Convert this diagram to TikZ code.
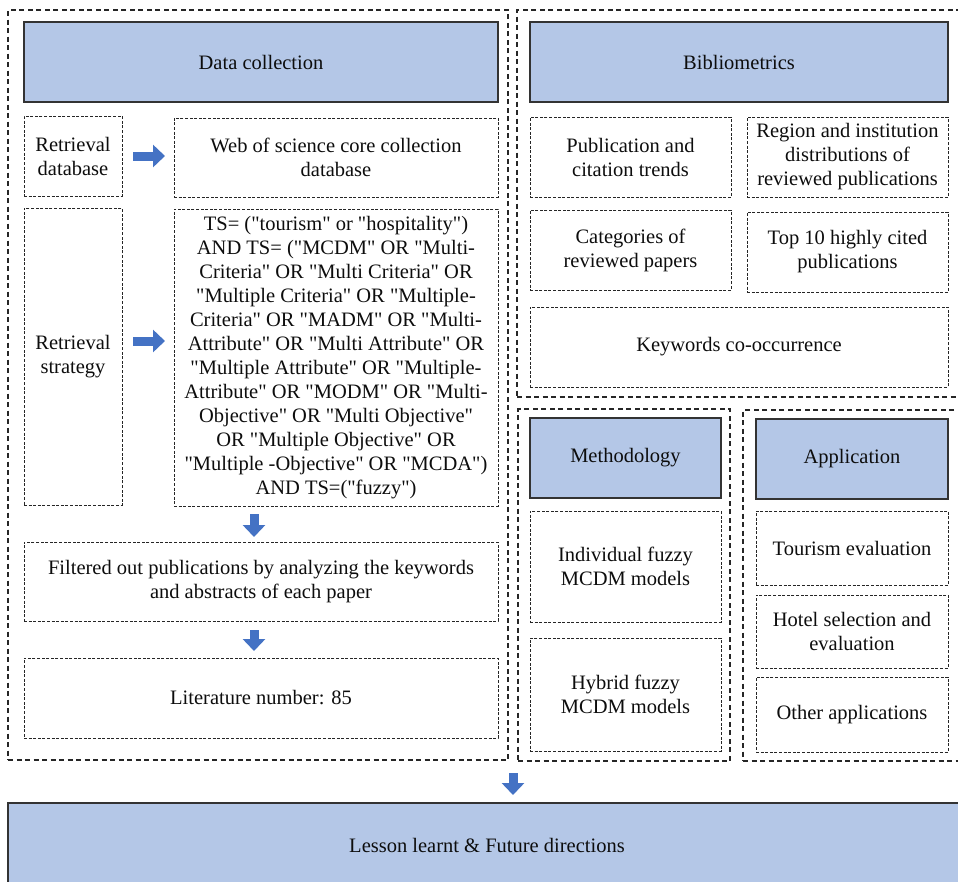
\documentclass[tikz,border=0pt]{standalone}
\usepackage{fontspec}
\setmainfont{Liberation Serif}[Ligatures=TeXOff]
\usetikzlibrary{arrows.meta}
\definecolor{hdrfill}{HTML}{B4C7E7}
\definecolor{arrowblue}{HTML}{4472C4}
\definecolor{txt}{HTML}{0D0D0D}
\begin{document}
\begin{tikzpicture}[x=1pt,y=-1pt,
  every node/.style={inner sep=0pt, outer sep=0pt, anchor=north west, align=center, text=txt,
    font=\fontsize{20.5}{24}\selectfont},
  outerbox/.style={draw=black!85, line width=1.1pt, dash pattern=on 5pt off 3.5pt},
  innerbox/.style={draw=black!85, line width=0.9pt, dash pattern=on 3pt off 1.6pt},
  hdrbox/.style={draw=black!80, fill=hdrfill, line width=1.3pt},
  blockarrow/.style={draw=arrowblue, line width=9pt, -{Triangle[width=22pt,length=12pt]}}]
\clip (0,0) rectangle (958,881);
\fill[white] (0,0) rectangle (958,881);
% outer dashed groups
\node[outerbox, minimum width=500pt, minimum height=750pt] (outerL) at (8,10) {};
\node[outerbox, minimum width=445pt, minimum height=387pt] (outerB) at (517,10) {};
\node[outerbox, minimum width=212pt, minimum height=352pt] (outerM) at (518,409) {};
\node[outerbox, minimum width=219pt, minimum height=351pt] (outerA) at (743,410) {};
% data collection
\node[hdrbox, minimum width=474pt, minimum height=80pt] (hdrD) at (24,22) {Data collection};
\node[innerbox, minimum width=98pt, minimum height=80pt] (retdb) at (24,116) {Retrieval\\database};
\node[innerbox, minimum width=324pt, minimum height=79pt] (web) at (174,118) {Web of science core collection\\database};
\node[innerbox, minimum width=98pt, minimum height=297pt] (retstr) at (24,208) {Retrieval\\strategy};
\node[innerbox, minimum width=324pt, minimum height=297pt] (ts) at (174,209) {TS= ("tourism" or "hospitality")\\
AND TS= ("MCDM" OR "Multi-\\
Criteria" OR "Multi Criteria" OR\\
"Multiple Criteria" OR "Multiple-\\
Criteria" OR "MADM" OR "Multi-\\
Attribute" OR "Multi Attribute" OR\\
"Multiple Attribute" OR "Multiple-\\
Attribute" OR "MODM" OR "Multi-\\
Objective" OR "Multi Objective"\\
OR "Multiple Objective" OR\\
"Multiple -Objective" OR "MCDA")\\
AND TS=("fuzzy")};
\node[innerbox, minimum width=474pt, minimum height=79pt] (filt) at (24,542) {Filtered out publications by analyzing the keywords\\and abstracts of each paper};
\node[innerbox, minimum width=474pt, minimum height=80pt] (lit) at (24,658) {Literature number: 85};
% bibliometrics
\node[hdrbox, minimum width=418pt, minimum height=80pt] (hdrB) at (530,22) {Bibliometrics};
\node[innerbox, minimum width=201pt, minimum height=80pt] (pub) at (530,117) {Publication and\\citation trends};
\node[innerbox, minimum width=201pt, minimum height=80pt] (reg) at (747,117) {Region and institution\\distributions of\\reviewed publications};
\node[innerbox, minimum width=201pt, minimum height=80pt] (cat) at (530,210) {Categories of\\reviewed papers};
\node[innerbox, minimum width=201pt, minimum height=80pt] (topten) at (747,212) {Top 10 highly cited\\publications};
\node[innerbox, minimum width=418pt, minimum height=80pt] (kw) at (530,307) {Keywords co-occurrence};
% methodology
\node[hdrbox, minimum width=191pt, minimum height=80pt] (hdrM) at (530,418) {Methodology};
\node[innerbox, minimum width=191pt, minimum height=111pt] (indiv) at (530,511) {Individual fuzzy\\MCDM models};
\node[innerbox, minimum width=191pt, minimum height=113pt] (hyb) at (530,638) {Hybrid fuzzy\\MCDM models};
% application
\node[hdrbox, minimum width=192pt, minimum height=80pt] (hdrA) at (756,419) {Application};
\node[innerbox, minimum width=192pt, minimum height=74pt] (tour) at (756,511) {Tourism evaluation};
\node[innerbox, minimum width=192pt, minimum height=73pt] (hotel) at (756,595) {Hotel selection and\\evaluation};
\node[innerbox, minimum width=192pt, minimum height=75pt] (other) at (756,677) {Other applications};
% lesson
\node[hdrbox, minimum width=958pt, minimum height=85pt] (lesson) at (8,803) {Lesson learnt \& Future directions};
% arrows
\coordinate (a2) at (0,341);
\coordinate (c1) at (254,0);
\coordinate (c3) at (513,0);
\draw[blockarrow, shorten <=11pt, shorten >=9pt] (retdb.east) -- (retdb.east -| web.west);
\draw[blockarrow, shorten <=11pt, shorten >=9pt] (retstr.east |- a2) -- (ts.west |- a2);
\draw[blockarrow, shorten <=8pt, shorten >=5pt] (ts.south -| c1) -- (filt.north -| c1);
\draw[blockarrow, shorten <=9pt, shorten >=7pt] (filt.south -| c1) -- (lit.north -| c1);
\draw[blockarrow, shorten <=13pt, shorten >=8pt] (outerL.south -| c3) -- (lesson.north -| c3);
\end{tikzpicture}
\end{document}
